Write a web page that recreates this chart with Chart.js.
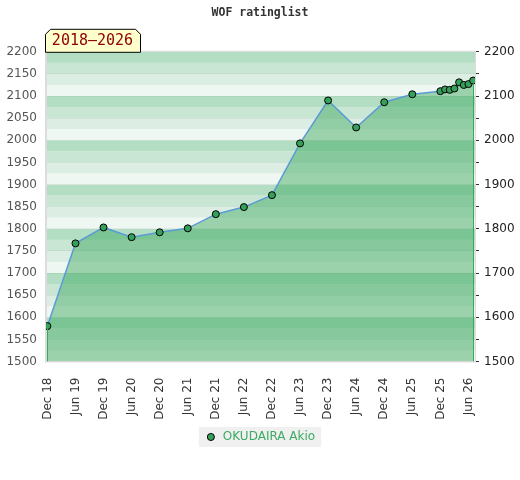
<!DOCTYPE html>
<html>
<head>
<meta charset="utf-8">
<script src="https://cdn.jsdelivr.net/npm/chart.js@4/dist/chart.umd.min.js"></script>
<style>
  body { margin: 0; background: #fff; }
  #wrap { width: 520px; height: 480px; position: relative; }
</style>
</head>
<body>
<div id="wrap"><canvas id="grafico"></canvas></div>
<script>
// months counted from Dec 2018
const meses = [0, 6, 12, 18, 24, 30, 36, 42, 48, 54, 60, 66, 72, 78, 84, 85, 86, 87, 88, 89, 90, 91];
const ratings = [1580, 1767, 1803, 1781, 1792, 1801, 1833, 1849, 1876, 1993, 2090, 2029, 2086, 2104,
                 2111, 2115, 2114, 2117, 2131, 2125, 2127, 2135];
const tickMeses = [0, 6, 12, 18, 24, 30, 36, 42, 48, 54, 60, 66, 72, 78, 84, 90];
const tickLabels = ['Dec 18', 'Jun 19', 'Dec 19', 'Jun 20', 'Dec 20', 'Jun 21', 'Dec 21', 'Jun 22',
                    'Dec 22', 'Jun 23', 'Dec 23', 'Jun 24', 'Dec 24', 'Jun 25', 'Dec 25', 'Jun 26'];
const jugador = 'OKUDAIRA Akio';
const periodo = '2018–2026';

const franjas = ['#eef7f1', '#dceee3', '#c9e6d4', '#b3dec3'];

const fondoPlugin = {
    id: 'fondo',
    beforeDraw(chart) {
        const { ctx, chartArea: a, scales: { y } } = chart;
        ctx.save();
        for (let v = y.min; v < y.max; v += 25) {
            const top = y.getPixelForValue(v + 25);
            const bot = y.getPixelForValue(v);
            ctx.fillStyle = franjas[((v - 1500) / 25) % 4];
            ctx.fillRect(a.left, top, a.right - a.left, bot - top);
        }
        // legend backdrop
        const hb = chart.legend.legendHitBoxes[0];
        if (hb) {
            ctx.fillStyle = '#f0f0f0';
            ctx.fillRect(hb.left - 6, hb.top - 4, hb.width + 12, hb.height + 8);
        }
        ctx.restore();
    },
    afterDatasetsDraw(chart) {
        const { ctx, chartArea: a } = chart;
        const pts = chart.getDatasetMeta(0).data;
        ctx.save();
        ctx.strokeStyle = '#38a85e';
        ctx.lineWidth = 1;
        [pts[0], pts[pts.length - 1]].forEach(p => {
            ctx.beginPath();
            ctx.moveTo(Math.round(p.x) + 0.5, p.y);
            ctx.lineTo(Math.round(p.x) + 0.5, a.bottom);
            ctx.stroke();
        });
        ctx.strokeStyle = '#dcdcdc';
        ctx.strokeRect(a.left - 0.5, a.top - 0.5, a.right - a.left + 1, a.bottom - a.top + 1);
        ctx.restore();
    },
    afterDraw(chart) {
        const { ctx, chartArea: a } = chart;
        const x0 = a.left - 1, x1 = a.left + 94, y0 = a.top - 23, y1 = a.top, c = 5;
        ctx.save();
        ctx.beginPath();
        ctx.moveTo(x0 + 0.5, y1 + 0.5);
        ctx.lineTo(x0 + 0.5, y0 + c + 0.5);
        ctx.lineTo(x0 + c + 0.5, y0 + 0.5);
        ctx.lineTo(x1 - c + 0.5, y0 + 0.5);
        ctx.lineTo(x1 + 0.5, y0 + c + 0.5);
        ctx.lineTo(x1 + 0.5, y1 + 0.5);
        ctx.closePath();
        ctx.fillStyle = '#ffffcc';
        ctx.fill();
        ctx.strokeStyle = '#000';
        ctx.lineWidth = 1;
        ctx.stroke();
        ctx.fillStyle = '#8b0000';
        ctx.font = '15px "DejaVu Sans Mono"';
        ctx.textAlign = 'center';
        ctx.textBaseline = 'middle';
        ctx.fillText(periodo, (x0 + x1) / 2, (y0 + y1) / 2 + 1);
        ctx.restore();
    }
};

new Chart(document.getElementById('grafico'), {
    type: 'line',
    data: {
        datasets: [{
            label: jugador,
            data: meses.map((m, i) => ({ x: m, y: ratings[i] })),
            borderColor: '#5b9bd5',
            borderWidth: 1.5,
            backgroundColor: 'rgba(56,165,91,0.46)',
            fill: 'start',
            tension: 0,
            pointRadius: 3.5,
            pointBackgroundColor: '#35a05a',
            pointBorderColor: '#000',
            pointBorderWidth: 1,
            yAxisID: 'y'
        }]
    },
    options: {
        responsive: true,
        maintainAspectRatio: false,
        animation: false,
        layout: { padding: { top: 0, left: 0, right: 0, bottom: 27 } },
        plugins: {
            title: {
                display: true,
                text: 'WOF ratinglist',
                color: '#333',
                font: { family: 'DejaVu Sans Mono', size: 11.5, weight: 'bold' },
                padding: { top: 6, bottom: 32 }
            },
            legend: {
                position: 'bottom',
                labels: {
                    usePointStyle: true,
                    boxHeight: 5,
                    boxWidth: 16,
                    color: '#3cab63',
                    font: { family: 'DejaVu Sans', size: 12 },
                    padding: 10
                }
            },
            tooltip: { enabled: false }
        },
        scales: {
            x: {
                type: 'linear',
                min: -0.3,
                max: 91.4,
                afterBuildTicks: s => { s.ticks = tickMeses.map(v => ({ value: v })); },
                afterFit: s => { s.height = 59.5; },
                grid: { display: false },
                border: { color: '#dcdcdc' },
                ticks: {
                    autoSkip: false,
                    minRotation: 90,
                    maxRotation: 90,
                    padding: 8,
                    color: '#333',
                    font: { family: 'DejaVu Sans', size: 12 },
                    callback: (v, i) => tickLabels[i]
                }
            },
            y: {
                position: 'left',
                min: 1500,
                max: 2200,
                afterFit: s => { s.width = 46; },
                grid: { color: 'rgba(0,0,0,0.05)', drawTicks: false },
                border: { color: '#dcdcdc' },
                ticks: {
                    stepSize: 50,
                    padding: 9,
                    color: '#555',
                    font: { family: 'DejaVu Sans', size: 12 },
                    callback: v => String(v)
                }
            },
            y2: {
                position: 'right',
                min: 1500,
                max: 2200,
                afterFit: s => { s.width = 45; },
                grid: { drawOnChartArea: false, tickLength: 4, color: '#333' },
                border: { color: '#dcdcdc' },
                ticks: {
                    stepSize: 50,
                    padding: 5,
                    color: '#222',
                    font: { family: 'DejaVu Sans', size: 12 },
                    callback: v => (v % 100 === 0 ? String(v) : '')
                }
            }
        }
    },
    plugins: [fondoPlugin]
});
</script>
</body>
</html>
